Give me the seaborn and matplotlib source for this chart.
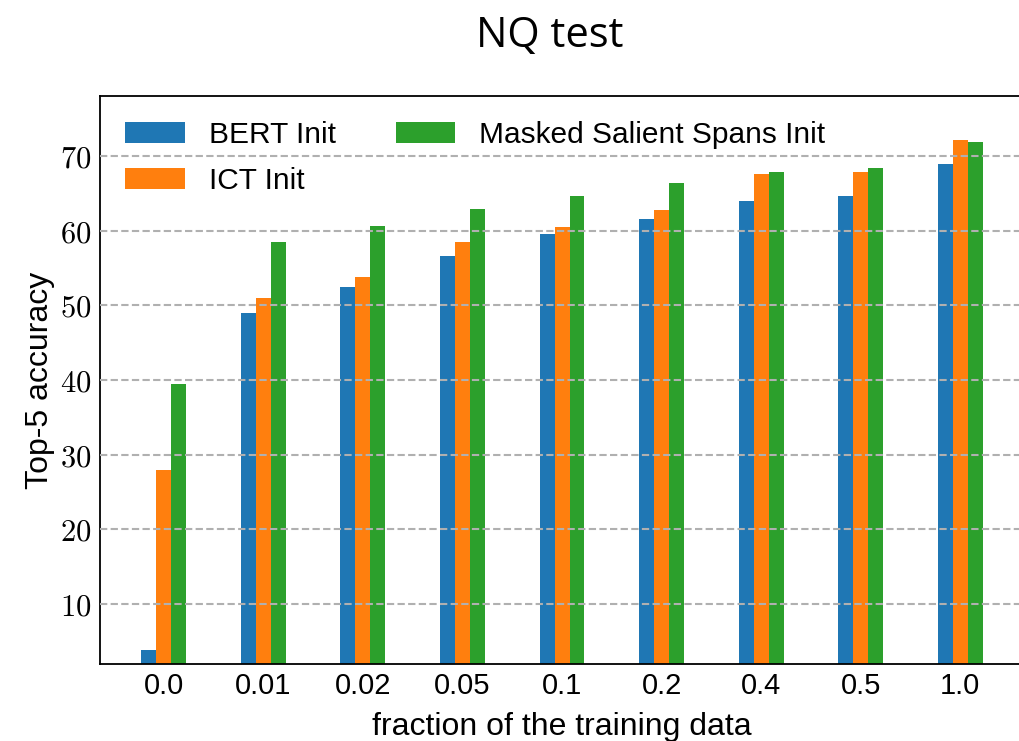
import matplotlib
matplotlib.use("Agg")
import matplotlib.pyplot as plt
import seaborn as sns
import pandas as pd
from matplotlib.ticker import FixedLocator, FixedFormatter

fractions = ["0.0", "0.01", "0.02", "0.05", "0.1", "0.2", "0.4", "0.5", "1.0"]
bert_init = [3.9, 49.0, 52.4, 56.6, 59.5, 61.5, 64.0, 64.6, 68.9]
ict_init = [28.0, 51.0, 53.8, 58.5, 60.5, 62.7, 67.5, 67.8, 72.1]
mss_init = [39.4, 58.5, 60.6, 62.9, 64.6, 66.4, 67.8, 68.3, 71.9]
series_names = ["BERT Init", "ICT Init", "Masked Salient Spans Init"]
y_ticks = [10, 20, 30, 40, 50, 60, 70]

rows = []
for name, vals in zip(series_names, [bert_init, ict_init, mss_init]):
    for f, v in zip(fractions, vals):
        rows.append({"fraction": f, "acc": v, "model": name})
df = pd.DataFrame(rows)

sns.set_style("white")
plt.rcParams["font.family"] = ["Liberation Sans", "DejaVu Sans"]
plt.rcParams["mathtext.fontset"] = "cm"
for k in ["text.color", "axes.labelcolor", "xtick.color", "ytick.color"]:
    plt.rcParams[k] = "black"

fig = plt.figure(figsize=(10.2, 7.41), dpi=100)
ax = fig.add_axes([100 / 1020, 77 / 741, 940 / 1020, 568 / 741])

palette = ["#1f77b4", "#ff7f0e", "#2ca02c"]
sns.barplot(data=df, x="fraction", y="acc", hue="model", order=fractions,
            hue_order=series_names, palette=palette, width=0.45,
            saturation=1, ax=ax, errorbar=None, edgecolor="none", linewidth=0)

ax.set_xlim(-0.64, 8.80)
ax.set_ylim(2, 78)
ax.yaxis.set_major_locator(FixedLocator(y_ticks))
ax.yaxis.set_major_formatter(FixedFormatter([f"${t}$" for t in y_ticks]))
ax.grid(axis="y", color="#b0b0b0", linestyle=(0, (3.5, 1.6)), linewidth=1.5)
ax.set_axisbelow(False)
ax.grid(axis="x", visible=False)

for s in ax.spines.values():
    s.set_linewidth(1.3)
    s.set_color("black")
ax.spines["right"].set_visible(False)

ax.tick_params(axis="both", direction="in", length=6, width=1.3, color="black")
ax.tick_params(axis="y", labelsize=22, pad=6)
ax.tick_params(axis="x", labelsize=21, pad=6)

ax.set_xlabel("fraction of the training data", fontsize=23)
ax.xaxis.set_label_coords((562 - 100) / 940, -0.085)
ax.xaxis.label.set_va("top")
ax.set_ylabel("Top-5 accuracy", fontsize=23, labelpad=4)
fig.text(550 / 1020, 1 - 47 / 741, "NQ test", fontsize=30, ha="center",
         va="baseline", family=["Open Sans", "DejaVu Sans"])

ax.legend(loc="upper left", ncol=2, frameon=False, fontsize=21.5,
          handlelength=2.0, handleheight=0.7, handletextpad=0.8,
          columnspacing=2.0, borderaxespad=0.45, labelspacing=0.6)

fig.savefig("out.png", dpi=100)
